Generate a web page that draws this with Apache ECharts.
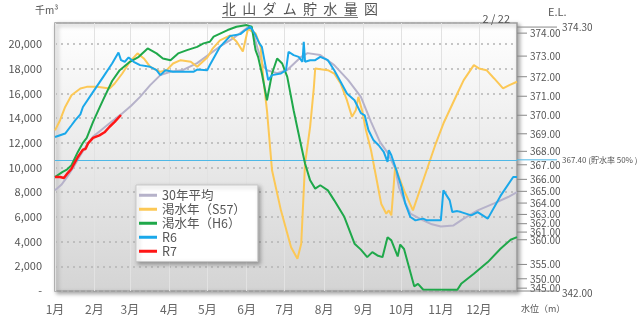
<!DOCTYPE html>
<html><head><meta charset="utf-8">
<script src="https://cdn.jsdelivr.net/npm/echarts@6/dist/echarts.min.js"></script>
<style>html,body{margin:0;padding:0;background:#fff}#c{width:640px;height:329px}</style>
</head><body><div id="c"></div>
<script>
// ---- data (x = day index from Jan 1, y = storage in 千m³) ----
const dayCounts = [31,28,31,30,31,30,31,31,30,31,30,31];
const seriesNames = ['30年平均','渇水年（S57）','渇水年（H6）','R6','R7'];

const avg30 = [[0,8150],[5,8600],[10,9300],[15,10100],[20,11000],[25,11800],[30,12500],[36,13000],[42,13500],[47,13900],[52,14300],[60,15000],[67,15720],[75,16670],[83,17480],[91,17750],[101,17900],[112,18450],[122,19200],[130,19800],[141,20500],[152,21350],[156,21000],[160,19500],[164,18200],[167,17880],[175,17640],[183,17900],[194,18960],[199,19260],[209,19100],[220,18290],[231,17070],[241,15720],[249,13700],[256,12070],[262,11200],[268,9930],[271,8400],[276,7100],[280,6270],[290,5720],[297,5400],[304,5230],[314,5310],[322,5860],[333,6530],[346,7100],[357,7610],[364,8010]];

const dryS57 = [[0,13010],[4,13830],[8,14900],[13,15850],[20,16400],[25,16530],[33,16530],[43,16400],[47,16800],[53,17610],[59,18560],[65,19240],[70,18830],[75,18150],[83,17750],[88,17880],[93,18420],[99,18690],[107,18560],[112,18150],[120,18900],[124,19600],[130,20300],[138,20700],[143,20200],[148,19400],[152,21200],[158,20860],[162,19770],[164,17340],[167,14630],[171,9770],[178,6530],[186,3550],[191,2610],[194,3830],[197,10320],[201,13290],[204,16530],[205,18020],[215,17880],[220,17610],[225,16800],[230,15450],[234,14100],[237,14630],[239,15720],[242,14600],[245,13020],[249,11400],[253,9230],[257,7070],[261,6260],[263,6530],[265,6120],[268,10040],[275,8150],[282,6530],[291,9230],[300,11940],[306,13560],[317,15990],[322,17070],[330,18290],[334,18020],[340,17880],[346,17210],[353,16400],[358,16670],[364,16940]];

const dryH6 = [[0,9230],[6,9640],[9,9800],[13,10180],[18,11260],[22,12000],[25,12400],[30,13700],[34,14600],[38,15500],[45,17000],[51,17880],[59,18560],[66,18960],[73,19640],[80,19240],[85,18830],[91,18690],[97,19240],[104,19500],[112,19770],[117,20050],[122,20180],[125,20590],[136,21130],[143,21400],[151,21530],[155,21400],[158,19500],[160,18960],[163,17610],[167,15450],[171,17610],[175,18830],[179,18420],[183,17340],[188,14640],[193,12200],[197,10320],[201,8960],[205,8290],[209,8560],[215,8150],[220,7340],[228,5990],[236,3830],[241,3350],[246,2740],[250,3150],[254,2880],[258,2740],[262,4360],[265,4100],[270,2800],[272,3760],[275,3400],[283,380],[286,580],[290,120],[317,100],[320,580],[330,1390],[341,2340],[351,3420],[359,4150],[364,4360]];

const r6 = [[0,12470],[8,12750],[13,13420],[16,13830],[20,14300],[22,14900],[30,16120],[38,17340],[45,18420],[50,19310],[52,18690],[55,18560],[58,18910],[62,18560],[67,18290],[75,18150],[80,17880],[83,17480],[87,17880],[93,17750],[101,17750],[109,17750],[112,17930],[120,17880],[122,18300],[130,19770],[138,20650],[146,20800],[150,21130],[154,21400],[158,20720],[161,20050],[163,19770],[166,18150],[168,17070],[171,17480],[178,17610],[182,17880],[184,19370],[188,19100],[192,18960],[195,18560],[196,20180],[197,18560],[201,18690],[205,18690],[209,18960],[215,18690],[220,17880],[225,16940],[230,15990],[236,15450],[241,14400],[244,14230],[247,13020],[251,12200],[255,11800],[259,11260],[262,10450],[263,11400],[265,10990],[269,9770],[273,8420],[276,7070],[280,5990],[284,5720],[290,5860],[293,5720],[300,5720],[304,5720],[306,8150],[311,7340],[313,6390],[317,6470],[320,6390],[328,6120],[333,6390],[341,5860],[351,7700],[361,9230],[364,9230]];

const r7 = [[0,9230],[4,9230],[7,9150],[10,9550],[13,9900],[15,10300],[18,10850],[22,11450],[24,11500],[26,11950],[30,12400],[35,12600],[39,12850],[43,13300],[47,13700],[52,14250]];

// right axis: elevation labels and the storage they sit at
const elevLabels  = ['374.00','373.00','372.00','371.00','370.00','369.00','368.00','367.00','366.00','365.00','364.00','363.00','362.00','361.00','360.00','355.00','350.00','345.00'];
const elevStorage = [20880,19020,17350,15770,14230,12730,11310,10220,9040,8070,7120,6200,5450,4770,4150,2150,990,230];
const elevSpecialLabels  = ['374.30','367.40 (貯水率 50% )','342.00'];
const elevSpecialStorage = [21370,10620,0];
const halfStorage = 10620;

const yTicksMax = 21700;
const dateLabel = '2 / 22';

// categories: every day of the year
const days = [];
dayCounts.forEach((n, m) => { for (let d = 1; d <= n; d++) days.push((m + 1) + '/' + d); });

const FONT = '"Noto Sans CJK JP", "Noto Sans", sans-serif';
const colors = ['#b6b2ca','#fcc856','#1fa84a','#1aa8ea','#ff1616'];
const chart = echarts.init(document.getElementById('c'));

const lineSeries = [avg30, dryS57, dryH6, r6, r7].map((d, i) => ({
  name: seriesNames[i], type: 'line', data: d, showSymbol: false, symbol: 'none',
  lineStyle: { color: colors[i], width: i === 4 ? 2.5 : 2 }, itemStyle: { color: colors[i] },
  z: 3 + i, silent: true,
  markLine: i === 0 ? { silent: true, symbol: 'none', label: { show: false },
    lineStyle: { color: '#4fb8e6', width: 1, type: 'solid' }, data: [{ yAxis: halfStorage }] } : undefined
}));

const elevSeries = {
  type: 'custom', name: 'elev', clip: false, silent: true, z: 2,
  data: elevStorage.map(s => [364, s]),
  renderItem: (params, api) => {
    const p = api.coord([364, api.value(1)]);
    const x = params.coordSys.x + params.coordSys.width;
    return { type: 'group', children: [
      { type: 'line', shape: { x1: x, y1: p[1], x2: x + 10, y2: p[1] }, style: { stroke: '#888', lineWidth: 1 } },
      { type: 'text', x: x + 13, y: p[1], style: { text: elevLabels[params.dataIndex], fill: '#555', fontSize: 10, fontFamily: FONT, verticalAlign: 'middle', align: 'left' } }
    ]};
  }
};
const elevSpecialSeries = {
  type: 'custom', name: 'elevSpecial', clip: false, silent: true, z: 2,
  data: elevSpecialStorage.map(s => [364, s]),
  renderItem: (params, api) => {
    const p = api.coord([364, api.value(1)]);
    const x = params.coordSys.x + params.coordSys.width;
    const i = params.dataIndex;
    const isHalf = i === 1;
    return { type: 'group', children: [
      { type: 'line', shape: { x1: x, y1: p[1], x2: x + 40, y2: p[1] }, style: { stroke: isHalf ? '#4fb8e6' : '#888', lineWidth: 1 } },
      { type: 'text', x: x + 45, y: p[1] + (i === 2 ? 2 : 0), style: { text: elevSpecialLabels[i], fill: '#555', fontSize: isHalf ? 8 : 10, fontFamily: FONT, verticalAlign: 'middle', align: 'left' } }
    ]};
  }
};

chart.setOption({
  animation: false,
  backgroundColor: '#fff',
  textStyle: { fontFamily: FONT },
  title: [
    { text: '北  山  ダ  ム  貯  水  量  図', left: 222, top: 2, padding: 0, textStyle: { fontSize: 14, fontWeight: 'normal', color: '#555', fontFamily: FONT } },
    { text: '千m³', left: 35, top: 5, padding: 0, textStyle: { fontSize: 10, fontWeight: 'normal', color: '#555', fontFamily: FONT } },
    { text: dateLabel, right: 130, top: 13, padding: 0, textStyle: { fontSize: 11, fontWeight: 'normal', color: '#555', fontFamily: FONT } },
    { text: 'E.L.', left: 548, top: 6, padding: 0, textStyle: { fontSize: 11, fontWeight: 'normal', color: '#555', fontFamily: FONT } },
    { text: '水位（m）', left: 521, top: 304, padding: 0, textStyle: { fontSize: 9, fontWeight: 'normal', color: '#555', fontFamily: FONT } }
  ],
  graphic: [{ type: 'line', shape: { x1: 222, y1: 17.5, x2: 358, y2: 17.5 }, style: { stroke: '#777', lineWidth: 1 } }],
  grid: { left: 55, right: 123, top: 23, bottom: 38, show: true, borderColor: '#9c9c9c', borderWidth: 1.5,
    backgroundColor: { type: 'linear', x: 0, y: 0, x2: 0, y2: 1, colorStops: [{ offset: 0, color: '#ffffff' }, { offset: 1, color: '#d4d4d4' }] },
    shadowColor: 'rgba(0,0,0,0.35)', shadowBlur: 4, shadowOffsetX: 2, shadowOffsetY: 2 },
  legend: {
    data: seriesNames, orient: 'vertical', left: 136, top: 185, itemWidth: 18, itemHeight: 3, icon: 'rect', itemGap: 1.5,
    padding: [4, 12, 4, 3], backgroundColor: '#fff', borderColor: '#c8c8c8', borderWidth: 1,
    shadowBlur: 4, shadowColor: 'rgba(0,0,0,0.3)', shadowOffsetX: 2, shadowOffsetY: 2,
    textStyle: { fontSize: 12.5, color: '#555', fontFamily: FONT }, selectedMode: false
  },
  xAxis: {
    type: 'category', data: days, boundaryGap: false,
    axisLine: { show: false }, axisTick: { show: false },
    axisLabel: { interval: (i, v) => /\/1$/.test(v), formatter: v => v.split('/')[0] + '月', color: '#666', fontSize: 12, margin: 12, fontFamily: FONT },
    splitLine: { show: true, interval: (i, v) => /\/1$/.test(v), lineStyle: { color: '#e2e2e2', width: 1 } }
  },
  yAxis: {
    type: 'value', min: 0, max: yTicksMax, interval: 2000,
    axisLine: { show: false }, axisTick: { show: false },
    axisLabel: { showMaxLabel: false, color: '#555', fontSize: 11, margin: 13, fontFamily: FONT,
      formatter: v => v === 0 ? '-' : v.toLocaleString('en-US') },
    splitLine: { lineStyle: { color: '#b4b4b4', type: [2, 4], width: 1.5 } }
  },
  series: [elevSeries, elevSpecialSeries].concat(lineSeries)
});
</script></body></html>
